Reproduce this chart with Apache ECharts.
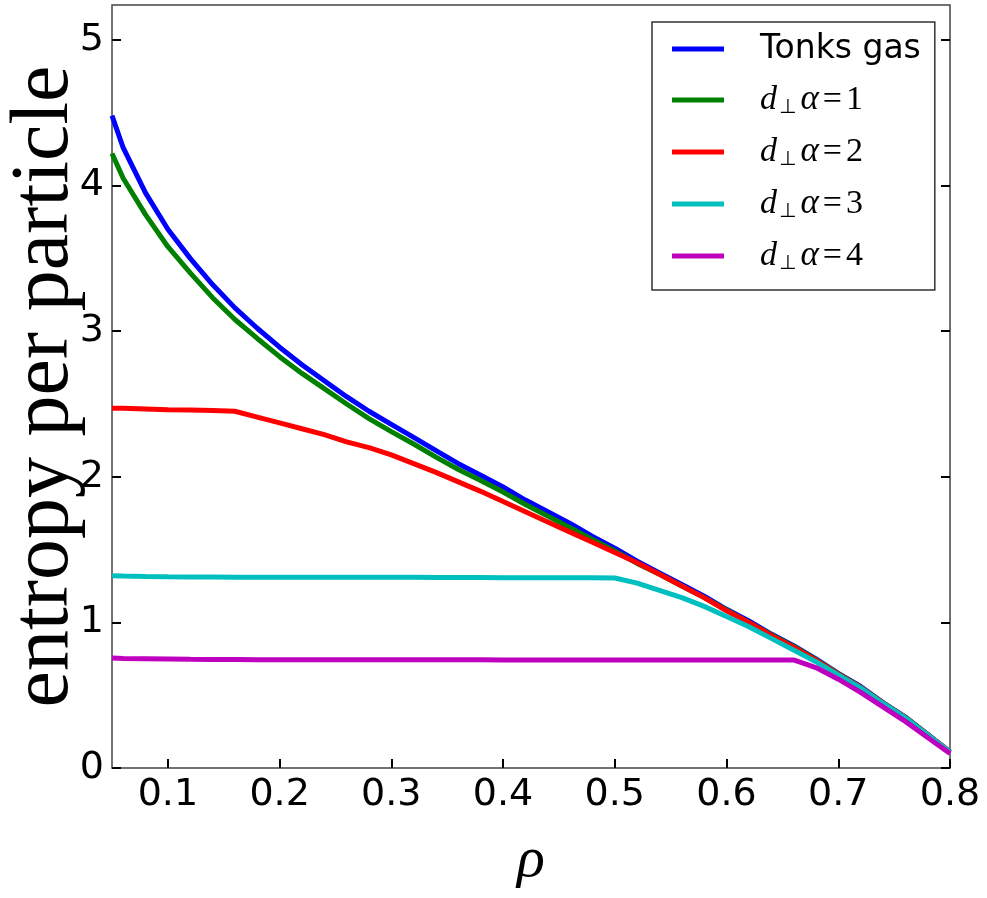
<!DOCTYPE html>
<html lang="en">
<head>
<meta charset="UTF-8">
<title>entropy per particle</title>
<script src="https://cdn.jsdelivr.net/npm/echarts@6/dist/echarts.min.js"></script>
<style>html,body{margin:0;padding:0;background:#fff}</style>
</head>
<body>
<div id="main" style="width:987px;height:898px"></div>
<script>
// density values (x)
var rho = [0.05,0.06,0.08,0.10,0.12,0.14,0.16,0.18,0.20,0.22,0.24,0.26,0.28,0.30,0.32,0.34,0.36,0.38,0.40,
    0.42,0.44,0.46,0.48,0.50,0.52,0.54,0.56,0.58,0.60,0.62,0.64,0.66,0.68,0.70,0.72,0.74,0.76,0.78,0.80];
// entropy per particle
var tonks = [4.48,4.26,3.95,3.70,3.50,3.32,3.16,3.02,2.89,2.77,2.66,2.55,2.45,2.36,2.27,2.18,2.09,2.01,1.93,
    1.84,1.76,1.68,1.59,1.51,1.42,1.34,1.26,1.18,1.09,1.01,0.92,0.84,0.75,0.65,0.56,0.45,0.35,0.23,0.11];
var alpha1 = [4.22,4.05,3.80,3.58,3.40,3.23,3.08,2.95,2.825,2.71,2.605,2.50,2.40,2.31,2.225,2.135,2.05,1.975,1.895,
    1.81,1.73,1.65,1.57,1.49,1.405,1.33,1.25,1.17,1.085,1.00,0.915,0.835,0.745,0.648,0.555,0.448,0.348,0.23,0.11];
var alpha2 = [2.47,2.47,2.465,2.46,2.458,2.455,2.45,2.41,2.37,2.33,2.29,2.24,2.20,2.15,2.09,2.03,1.965,1.90,1.83,
    1.76,1.69,1.62,1.55,1.48,1.41,1.33,1.25,1.17,1.08,1.00,0.91,0.83,0.74,0.645,0.553,0.447,0.347,0.23,0.11];
var alpha3 = [1.32,1.318,1.315,1.313,1.312,1.311,1.31,1.31,1.31,1.31,1.31,1.31,1.31,1.31,1.31,1.308,1.308,1.308,1.307,
    1.307,1.307,1.306,1.306,1.305,1.27,1.22,1.17,1.11,1.04,0.97,0.89,0.81,0.73,0.64,0.55,0.445,0.345,0.228,0.108];
var alpha4 = [0.755,0.752,0.75,0.748,0.746,0.745,0.745,0.744,0.744,0.744,0.744,0.743,0.743,0.743,0.743,0.743,0.743,0.743,0.742,
    0.742,0.742,0.742,0.742,0.742,0.742,0.742,0.742,0.742,0.742,0.742,0.742,0.742,0.69,0.61,0.52,0.42,0.32,0.21,0.10];

var xTicks = [0.1,0.2,0.3,0.4,0.5,0.6,0.7,0.8];
var yTicks = [0,1,2,3,4,5];
var names = ['Tonks gas','d⊥α=1','d⊥α=2','d⊥α=3','d⊥α=4'];
var colors = ['#0000ff','#008000','#ff0000','#00bfbf','#bf00bf'];
var curves = [tonks, alpha1, alpha2, alpha3, alpha4];

function pairs(ys) {
    return rho.map(function (x, i) { return [x, ys[i]]; });
}

var myChart = echarts.init(document.getElementById('main'));

var tickStyle = {show: true, inside: true, length: 9, lineStyle: {color: '#000', width: 2}};

myChart.setOption({
    animation: false,
    backgroundColor: '#fff',
    grid: {left: 112, right: 37, top: 5, bottom: 130, outerBoundsMode: 'none',
        show: true, borderColor: '#444', borderWidth: 1.5},
    xAxis: {
        type: 'value', min: 0.05, max: 0.8,
        name: 'ρ', nameLocation: 'middle', nameGap: 64, nameMoveOverlap: false,
        nameTextStyle: {fontFamily: 'Liberation Serif', fontStyle: 'italic', fontSize: 58, color: '#000'},
        axisLine: {show: false},
        splitLine: {show: false},
        axisTick: Object.assign({customValues: xTicks}, tickStyle),
        axisLabel: {customValues: xTicks, fontFamily: 'DejaVu Sans', fontSize: 38, color: '#000', margin: 8,
            formatter: function (v) { return v.toFixed(1); }}
    },
    yAxis: [{
        type: 'value', min: 0, max: 5.24,
        name: 'entropy per particle', nameLocation: 'middle', nameGap: 26, nameMoveOverlap: false,
        nameTextStyle: {fontFamily: 'Liberation Serif', fontSize: 82, color: '#000'},
        axisLine: {show: false},
        splitLine: {show: false},
        axisTick: Object.assign({customValues: yTicks}, tickStyle),
        axisLabel: {customValues: yTicks, fontFamily: 'DejaVu Sans', fontSize: 38, color: '#000', margin: 8}
    }, {
        type: 'value', min: 0, max: 5.24, position: 'right',
        axisLine: {show: false},
        splitLine: {show: false},
        axisTick: Object.assign({customValues: yTicks}, tickStyle),
        axisLabel: {show: false}
    }],
    legend: {
        orient: 'vertical', left: 652, top: 22,
        padding: [10, 14, 16, 20],
        itemGap: 16, itemWidth: 52, itemHeight: 5, icon: 'rect',
        backgroundColor: '#fff', borderColor: '#333', borderWidth: 1.5, borderRadius: 0,
        data: names,
        formatter: function (name) {
            if (name === 'Tonks gas') return name;
            return '{d|d}{s|⊥}{a|α}{e|=}{n|' + name.slice(-1) + '}';
        },
        textStyle: {
            fontFamily: 'DejaVu Sans', fontSize: 33, lineHeight: 34, color: '#000',
            padding: [0, 0, 0, 31],
            rich: {
                d: {fontFamily: 'Liberation Serif', fontStyle: 'italic', fontSize: 34, lineHeight: 36},
                s: {fontFamily: 'DejaVu Sans', fontSize: 20, lineHeight: 20, padding: [16, 4, 0, 2]},
                a: {fontFamily: 'Liberation Serif', fontStyle: 'italic', fontSize: 35, lineHeight: 36},
                e: {fontFamily: 'Liberation Serif', fontSize: 34, lineHeight: 36, padding: [0, 4, 0, 4]},
                n: {fontFamily: 'Liberation Serif', fontSize: 34, lineHeight: 36}
            }
        }
    },
    series: curves.map(function (ys, i) {
        return {
            name: names[i], type: 'line', data: pairs(ys),
            symbol: 'none', color: colors[i],
            lineStyle: {color: colors[i], width: 5}
        };
    })
});
</script>
</body>
</html>
